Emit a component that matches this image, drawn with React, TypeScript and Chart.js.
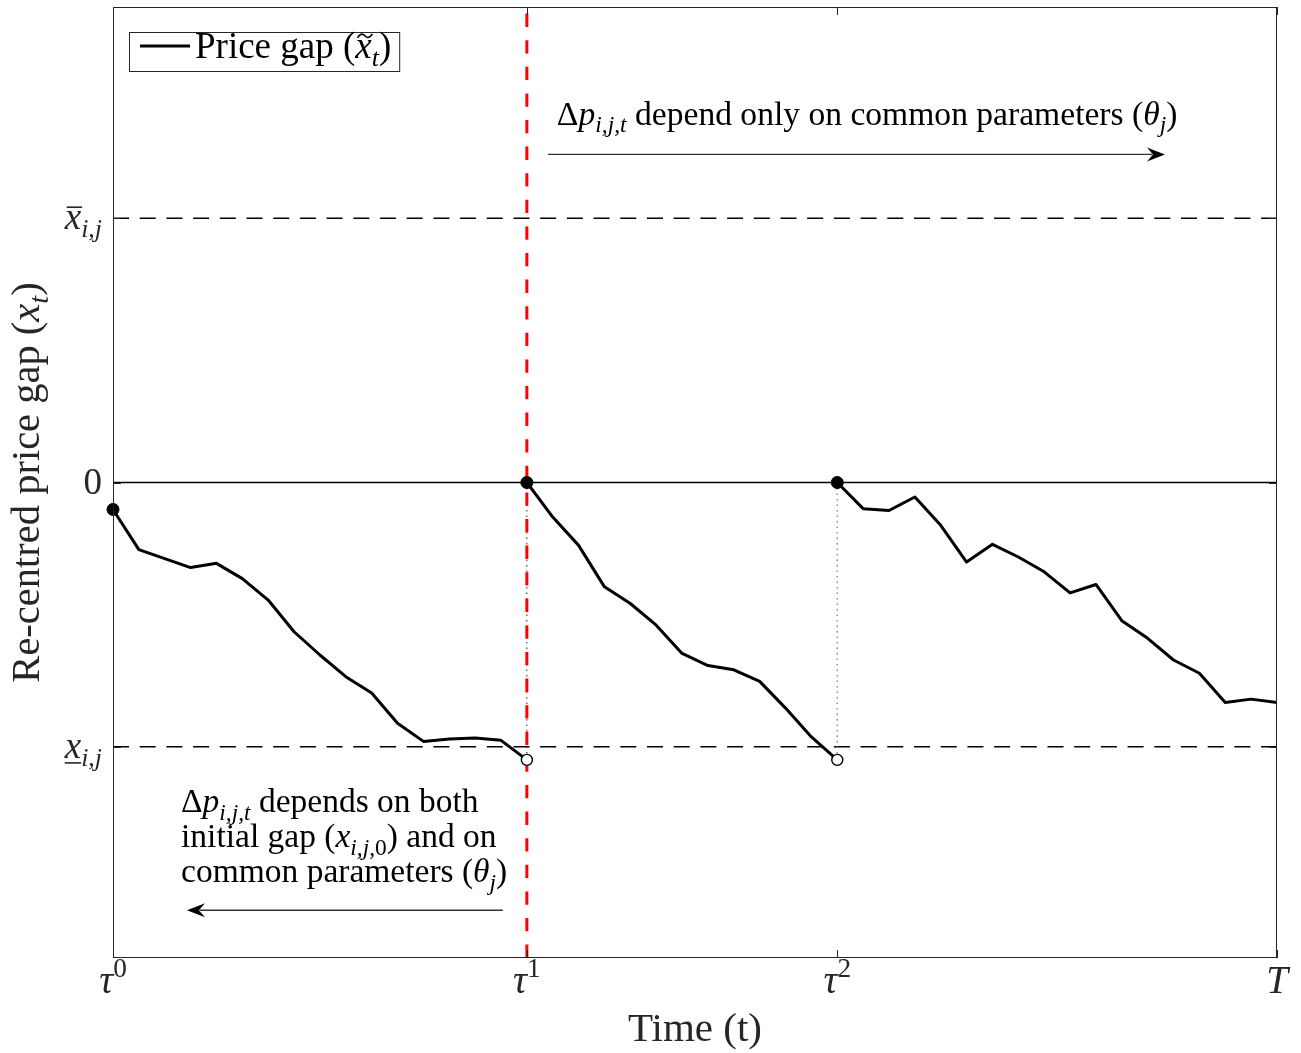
import { useEffect, useRef } from 'react';
import { Chart, registerables } from 'chart.js';

Chart.register(...registerables);

// Time axis: periods 0..45, price resets at tau^1 and tau^2, horizon T
const tickTimes = [0, 16, 28, 45];
const tickBase = ['τ', 'τ', 'τ', 'T'];
const tickSup = ['0', '1', '2', ''];

// Re-centred price gap along each spell between resets
const pathA = [-0.102, -0.254, -0.288, -0.322, -0.306, -0.364, -0.445, -0.565, -0.653, -0.735, -0.797, -0.911, -0.98, -0.971, -0.967, -0.976, -1.05]; // t = 0..16
const pathB = [0, -0.131, -0.238, -0.395, -0.458, -0.54, -0.647, -0.693, -0.709, -0.753, -0.854, -0.963, -1.05]; // t = 16..28
const pathC = [0, -0.099, -0.106, -0.055, -0.162, -0.301, -0.234, -0.282, -0.338, -0.418, -0.386, -0.523, -0.59, -0.672, -0.722, -0.833, -0.82, -0.833]; // t = 28..45
const pathStarts = [0, 16, 28];

// Inaction band and vertical range
const upperBound = 1;
const lowerBound = -1;
const yLimits = [-1.8, 1.8];
const tLimits = [0, 45];

// Regime switch at tau^1
const switchTime = 16;

// Annotation arrows (time from -> to, level)
const arrowForward = [16.82, 40.67];
const arrowForwardLevel = 1.242;
const arrowBack = [15.07, 2.86];
const arrowBackLevel = -1.619;

// Annotation text anchors (time, level of each baseline)
const noteTopAt = [17.16, 1.355];
const noteBottomAt = 2.63;
const noteBottomLines = [-1.249, -1.381, -1.513];

const FAMILY = '"Liberation Serif", "Times New Roman", serif';
const AXIS = '#262626';

type Seg = { s: string; it?: boolean; sub?: boolean; sup?: boolean; mark?: 'bar' | 'under' | 'tilde' };

function segFont(seg: Seg, size: number) {
  const px = seg.sub || seg.sup ? size * 0.7 : size;
  return `${seg.it ? 'italic ' : ''}${px}px ${FAMILY}`;
}

function richWidth(ctx: CanvasRenderingContext2D, segs: Seg[], size: number) {
  let w = 0;
  for (const seg of segs) {
    ctx.font = segFont(seg, size);
    w += ctx.measureText(seg.s).width;
  }
  return w;
}

function drawRich(
  ctx: CanvasRenderingContext2D,
  segs: Seg[],
  x: number,
  y: number,
  size: number,
  align: 'left' | 'center' | 'right',
) {
  const total = richWidth(ctx, segs, size);
  let cx = align === 'left' ? x : align === 'right' ? x - total : x - total / 2;
  ctx.textAlign = 'left';
  ctx.textBaseline = 'alphabetic';
  for (const seg of segs) {
    ctx.font = segFont(seg, size);
    const dy = seg.sub ? 0.22 * size : seg.sup ? -0.42 * size : 0;
    ctx.fillText(seg.s, cx, y + dy);
    const sw = ctx.measureText(seg.s).width;
    if (seg.mark === 'bar') {
      ctx.fillRect(cx + 2, y - 0.62 * size, sw - 1, 1.6);
    } else if (seg.mark === 'under') {
      ctx.fillRect(cx, y + 0.12 * size, sw, 1.6);
    } else if (seg.mark === 'tilde') {
      const mx = cx + sw / 2 + 0.04 * size;
      const ty = y - 0.6 * size;
      const hw = 0.2 * size;
      ctx.save();
      ctx.lineWidth = 1.6;
      ctx.beginPath();
      ctx.moveTo(mx - hw, ty + 2);
      ctx.bezierCurveTo(mx - hw * 0.5, ty - 4, mx - hw * 0.1, ty - 1, mx, ty);
      ctx.bezierCurveTo(mx + hw * 0.1, ty + 1, mx + hw * 0.5, ty + 4, mx + hw, ty - 2);
      ctx.stroke();
      ctx.restore();
    }
    cx += sw;
  }
  return total;
}

function arrowHead(ctx: CanvasRenderingContext2D, tx: number, ty: number, dir: number) {
  ctx.beginPath();
  ctx.moveTo(tx, ty);
  ctx.lineTo(tx - dir * 18, ty - 7);
  ctx.lineTo(tx - dir * 12, ty);
  ctx.lineTo(tx - dir * 18, ty + 7);
  ctx.closePath();
  ctx.fill();
}

const decorations = {
  id: 'decorations',
  beforeDraw(chart: any) {
    const { ctx, width, height } = chart;
    ctx.save();
    ctx.fillStyle = '#ffffff';
    ctx.fillRect(0, 0, width, height);
    ctx.restore();
  },
  afterDatasetsDraw(chart: any) {
    const { ctx, chartArea: a } = chart;
    const xs = chart.scales.x;
    const ys = chart.scales.y;
    ctx.save();

    // arrowheads
    ctx.fillStyle = '#000';
    arrowHead(ctx, xs.getPixelForValue(arrowForward[1]), ys.getPixelForValue(arrowForwardLevel), 1);
    arrowHead(ctx, xs.getPixelForValue(arrowBack[1]), ys.getPixelForValue(arrowBackLevel), -1);

    // axes box with inward ticks
    ctx.strokeStyle = AXIS;
    ctx.lineWidth = 1;
    ctx.strokeRect(a.left + 0.5, a.top + 0.5, a.right - a.left - 1, a.bottom - a.top - 1);
    ctx.beginPath();
    for (const t of tickTimes) {
      const px = Math.round(xs.getPixelForValue(t)) + 0.5;
      ctx.moveTo(px, a.bottom);
      ctx.lineTo(px, a.bottom - 8);
      ctx.moveTo(px, a.top);
      ctx.lineTo(px, a.top + 8);
    }
    for (const v of [lowerBound, 0, upperBound]) {
      const py = Math.round(ys.getPixelForValue(v)) + 0.5;
      ctx.moveTo(a.left, py);
      ctx.lineTo(a.left + 8, py);
      ctx.moveTo(a.right, py);
      ctx.lineTo(a.right - 8, py);
    }
    ctx.stroke();

    ctx.fillStyle = AXIS;
    ctx.strokeStyle = AXIS;
    // x tick labels
    tickTimes.forEach((t, i) => {
      const segs: Seg[] = [{ s: tickBase[i], it: true }];
      if (tickSup[i]) segs.push({ s: tickSup[i], sup: true });
      drawRich(ctx, segs, xs.getPixelForValue(t), a.bottom + 35, 39, 'center');
    });
    // y tick labels
    const yLabels: [number, Seg[]][] = [
      [upperBound, [{ s: 'x', it: true, mark: 'bar' }, { s: 'i,j', it: true, sub: true }]],
      [0, [{ s: '0' }]],
      [lowerBound, [{ s: 'x', it: true, mark: 'under' }, { s: 'i,j', it: true, sub: true }]],
    ];
    for (const [v, segs] of yLabels) {
      drawRich(ctx, segs, a.left - 11, ys.getPixelForValue(v) + 11, 37, 'right');
    }

    // axis titles
    drawRich(ctx, [{ s: 'Time (t)' }], (a.left + a.right) / 2, a.bottom + 83, 41, 'center');
    ctx.save();
    ctx.translate(a.left - 74, (a.top + a.bottom) / 2);
    ctx.rotate(-Math.PI / 2);
    drawRich(
      ctx,
      [{ s: 'Re-centred price gap (' }, { s: 'x', it: true }, { s: 't', it: true, sub: true }, { s: ')' }],
      0,
      0,
      40.5,
      'center',
    );
    ctx.restore();

    // annotations
    ctx.fillStyle = '#000';
    ctx.strokeStyle = '#000';
    drawRich(
      ctx,
      [
        { s: 'Δ' },
        { s: 'p', it: true },
        { s: 'i,j,t', it: true, sub: true },
        { s: ' depend only on common parameters (' },
        { s: 'θ', it: true },
        { s: 'j', it: true, sub: true },
        { s: ')' },
      ],
      xs.getPixelForValue(noteTopAt[0]),
      ys.getPixelForValue(noteTopAt[1]),
      33.6,
      'left',
    );
    const bottomLines: Seg[][] = [
      [{ s: 'Δ' }, { s: 'p', it: true }, { s: 'i,j,t', it: true, sub: true }, { s: ' depends on both' }],
      [{ s: 'initial gap (' }, { s: 'x', it: true }, { s: 'i,j,', it: true, sub: true }, { s: '0', sub: true }, { s: ') and on' }],
      [{ s: 'common parameters (' }, { s: 'θ', it: true }, { s: 'j', it: true, sub: true }, { s: ')' }],
    ];
    bottomLines.forEach((segs, i) => {
      drawRich(ctx, segs, xs.getPixelForValue(noteBottomAt), ys.getPixelForValue(noteBottomLines[i]), 33.5, 'left');
    });

    // legend
    const legendSegs: Seg[] = [
      { s: 'Price gap (' },
      { s: 'x', it: true, mark: 'tilde' },
      { s: 't', it: true, sub: true },
      { s: ')' },
    ];
    const lx = a.left + 16;
    const ly = a.top + 25;
    const tw = richWidth(ctx, legendSegs, 37);
    const boxW = 11 + 50 + 5 + tw + 8;
    ctx.fillStyle = '#fff';
    ctx.fillRect(lx, ly, boxW, 39);
    ctx.strokeStyle = AXIS;
    ctx.lineWidth = 1;
    ctx.strokeRect(lx + 0.5, ly + 0.5, boxW, 39);
    ctx.strokeStyle = '#000';
    ctx.lineWidth = 3;
    ctx.beginPath();
    ctx.moveTo(lx + 11, ly + 14);
    ctx.lineTo(lx + 61, ly + 14);
    ctx.stroke();
    ctx.fillStyle = '#000';
    ctx.strokeStyle = '#000';
    drawRich(ctx, legendSegs, lx + 66, ly + 26, 37, 'left');

    ctx.restore();
  },
};

const toPoints = (vals: number[], start: number) => vals.map((y, i) => ({ x: start + i, y }));

export default function App() {
  const ref = useRef<HTMLCanvasElement | null>(null);

  useEffect(() => {
    if (!ref.current) return;
    const spells = [pathA, pathB, pathC];
    const lastA = pathA[pathA.length - 1];
    const lastB = pathB[pathB.length - 1];

    const chart = new Chart(ref.current, {
      type: 'line',
      data: {
        datasets: [
          // reset markers
          {
            label: 'resets',
            data: spells.map((p, i) => ({ x: pathStarts[i], y: p[0] })),
            showLine: false,
            pointRadius: 6,
            pointBackgroundColor: '#000',
            pointBorderColor: '#000',
            pointBorderWidth: 1,
            clip: false as any,
            order: 0,
          },
          {
            label: 'thresholds hit',
            data: [
              { x: pathStarts[1], y: lastA },
              { x: pathStarts[2], y: lastB },
            ],
            showLine: false,
            pointRadius: 5.5,
            pointBackgroundColor: '#fff',
            pointBorderColor: '#000',
            pointBorderWidth: 1.4,
            clip: false as any,
            order: 0,
          },
          ...spells.map((p, i) => ({
            label: 'Price gap',
            data: toPoints(p, pathStarts[i]),
            borderColor: '#000',
            borderWidth: 3,
            pointRadius: 0,
            borderJoinStyle: 'round' as const,
            tension: 0,
            order: 1,
          })),
          {
            label: 'switch',
            data: [
              { x: switchTime, y: yLimits[1] },
              { x: switchTime, y: yLimits[0] },
            ],
            borderColor: '#ff0000',
            borderWidth: 3,
            borderDash: [13.3, 13.3],
            borderDashOffset: 20,
            pointRadius: 0,
            order: 2,
          },
          {
            label: 'drop tau1',
            data: [
              { x: pathStarts[1], y: 0 },
              { x: pathStarts[1], y: lastA },
            ],
            borderColor: '#222',
            borderWidth: 1,
            borderDash: [1.5, 4],
            pointRadius: 0,
            order: 3,
          },
          {
            label: 'drop tau2',
            data: [
              { x: pathStarts[2], y: 0 },
              { x: pathStarts[2], y: lastB },
            ],
            borderColor: '#8c8c8c',
            borderWidth: 1.5,
            borderDash: [1.5, 4],
            pointRadius: 0,
            order: 3,
          },
          {
            label: 'zero',
            data: [
              { x: tLimits[0], y: 0 },
              { x: tLimits[1], y: 0 },
            ],
            borderColor: '#000',
            borderWidth: 1.5,
            pointRadius: 0,
            order: 4,
          },
          ...[upperBound, lowerBound].map((b) => ({
            label: 'band',
            data: [
              { x: tLimits[0], y: b },
              { x: tLimits[1], y: b },
            ],
            borderColor: '#000',
            borderWidth: 1.5,
            borderDash: [16, 10.7],
            pointRadius: 0,
            order: 4,
          })),
          {
            label: 'arrow forward',
            data: [
              { x: arrowForward[0], y: arrowForwardLevel },
              { x: arrowForward[1] - 0.5, y: arrowForwardLevel },
            ],
            borderColor: '#333',
            borderWidth: 1.4,
            pointRadius: 0,
            order: 4,
          },
          {
            label: 'arrow back',
            data: [
              { x: arrowBack[0], y: arrowBackLevel },
              { x: arrowBack[1] + 0.5, y: arrowBackLevel },
            ],
            borderColor: '#333',
            borderWidth: 1.4,
            pointRadius: 0,
            order: 4,
          },
        ],
      },
      options: {
        responsive: false,
        animation: false,
        devicePixelRatio: 1,
        parsing: false as any,
        layout: { padding: { left: 113, right: 24, top: 5, bottom: 95 } },
        scales: {
          x: { type: 'linear', min: tLimits[0], max: tLimits[1], display: false },
          y: { type: 'linear', min: yLimits[0], max: yLimits[1], display: false },
        },
        plugins: {
          legend: { display: false },
          tooltip: { enabled: false },
        },
      },
      plugins: [decorations],
    });
    return () => chart.destroy();
  }, []);

  return (
    <div style={{ position: 'absolute', left: 0, top: 0, width: 1301, height: 1053, background: '#fff' }}>
      <canvas ref={ref} width={1301} height={1053} />
    </div>
  );
}
